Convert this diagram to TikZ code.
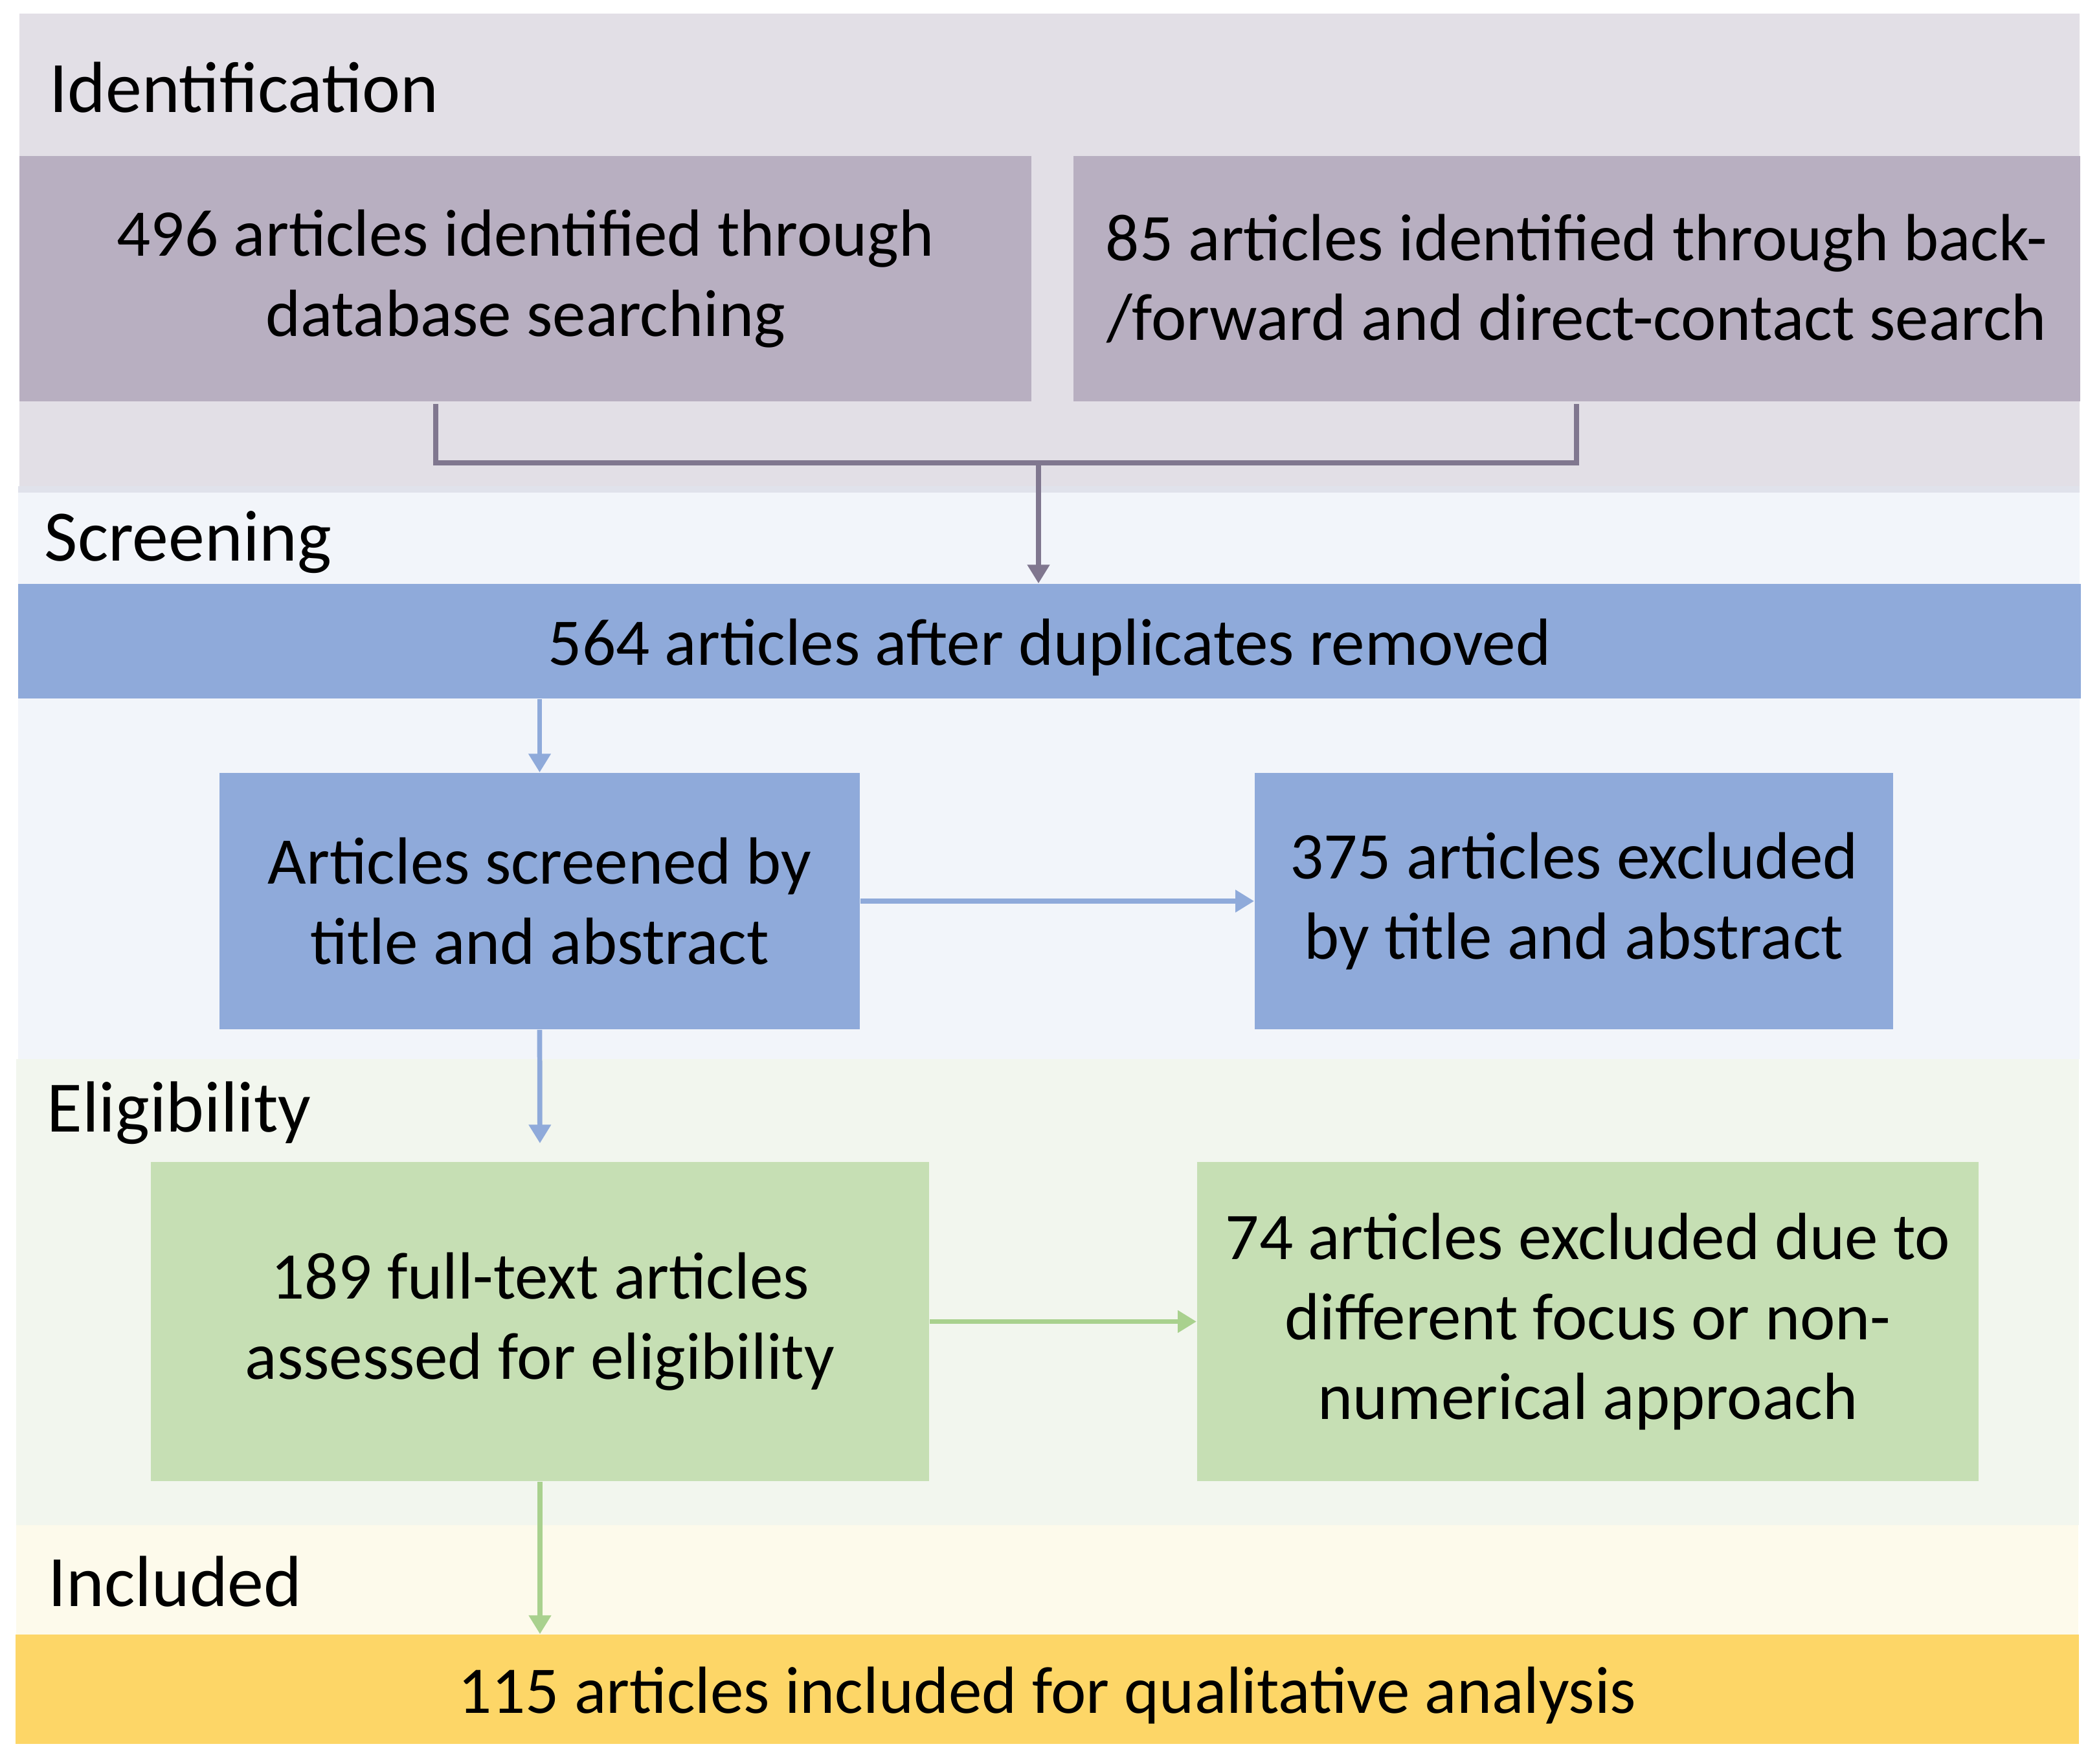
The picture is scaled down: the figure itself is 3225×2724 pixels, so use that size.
\documentclass[tikz,border=0pt]{standalone}
\usepackage{fontspec}
\setmainfont{Carlito}
\usetikzlibrary{arrows.meta}

\definecolor{idband}{HTML}{E2DFE6}
\definecolor{idbox}{HTML}{B8AFC1}
\definecolor{idline}{HTML}{80778F}
\definecolor{idstrip}{HTML}{E0E2EB}
\definecolor{scrband}{HTML}{F2F5FA}
\definecolor{scrbox}{HTML}{8FAADA}
\definecolor{eliband}{HTML}{F2F6EE}
\definecolor{elibox}{HTML}{C6DFB4}
\definecolor{eliline}{HTML}{A9D18E}
\definecolor{incband}{HTML}{FDFAEB}
\definecolor{incbox}{HTML}{FDD667}

\tikzset{
  stagebox/.style={rectangle,inner sep=0pt,align=center,text=black,
    font=\fontsize{29.3}{35.2}\selectfont,
    execute at begin node={\vrule height #1 width 0pt}},
  stagebox/.default=0.88em,
  stagelabel/.style={anchor=base west,inner sep=0pt,text=black,
    font=\fontsize{31.8}{38}\selectfont},
  flow/.style={line width=2.2pt,-{Triangle[width=9.4pt,length=8.2pt]}},
}

\begin{document}
\begin{tikzpicture}[x=0.01cm,y=-0.01cm]
    \useasboundingbox (0,0) rectangle (3225,2724);
    % stage bands
    \fill[idband] (30,21) rectangle (3212,751);
    \fill[idstrip] (28,751) rectangle (3212,761);
    \fill[scrband] (28,761) rectangle (3212,1636);
    \fill[eliband] (25,1636) rectangle (3211,2356);
    \fill[incband] (25,2356) rectangle (3210,2525);
    \node[stagelabel] (lid) at (76,173) {Identification};
    \node[stagelabel] (lscr) at (68,866) {Screening};
    \node[stagelabel] (leli) at (72,1748) {Eligibility};
    \node[stagelabel] (linc) at (74,2481) {Included};

    \node[stagebox=1em,fill=idbox,minimum width=15.63cm,minimum height=3.79cm] (dbase) at (811.5,430.5)
     {496 articles identified through\\database searching};
    \node[stagebox=1em,fill=idbox,minimum width=15.54cm,minimum height=3.79cm] (backfwd) at (2435,430.5)
     {85 articles identified through back-\\/forward and direct-contact search};
    \node[stagebox,fill=scrbox,minimum width=31.84cm,minimum height=1.77cm] (dedup) at (1621,990.5)
     {564 articles after duplicates removed};
    \node[stagebox=1em,fill=scrbox,minimum width=9.89cm,minimum height=3.96cm] (screen) at (833.5,1392)
     {Articles screened by\\title and abstract};
    \node[stagebox=1em,fill=scrbox,minimum width=9.86cm,minimum height=3.96cm] (scrout) at (2431,1392)
     {375 articles excluded\\by title and abstract};
    \node[stagebox=1em,fill=elibox,minimum width=12.02cm,minimum height=4.93cm] (fulltext) at (834,2041.5)
     {189 full-text articles\\assessed for eligibility};
    \node[stagebox=1em,fill=elibox,minimum width=12.07cm,minimum height=4.93cm] (eliout) at (2452.5,2041.5)
     {74 articles excluded due to\\different focus or non-\\numerical approach};
    \node[stagebox,fill=incbox,minimum width=31.85cm,minimum height=1.69cm] (final) at (1617.5,2609.5)
     {115 articles included for qualitative analysis};

    % connectors
    \coordinate (join) at (1604,715);
    \draw[idline,line width=2.3pt] ([xshift=-1.385cm,yshift=-0.03cm]dbase.south) |- (join)
      -| ([yshift=-0.03cm]backfwd.south);
    \draw[flow,idline] (join) -- (join |- dedup.north);
    \draw[flow,scrbox] (screen.north |- dedup.south) -- (screen.north);
    \draw[flow,scrbox] (screen.east) -- (scrout.west);
    \draw[flow,scrbox,shorten >=0.28cm] (screen.south) -- (fulltext.north);
    \draw[flow,eliline] (fulltext.east) -- (eliout.west);
    \draw[flow,eliline] (fulltext.south) -- (fulltext.south |- final.north);
\end{tikzpicture}
\end{document}
